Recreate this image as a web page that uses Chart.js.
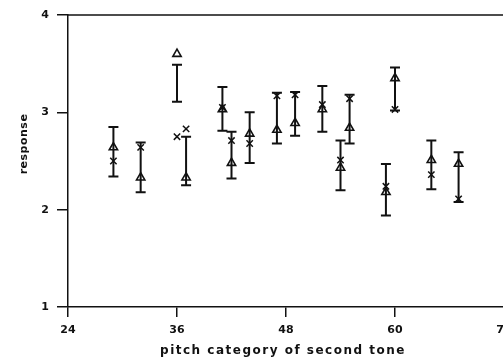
<!DOCTYPE html>
<html>
<head>
<meta charset="utf-8">
<script src="https://cdn.jsdelivr.net/npm/chart.js@4/dist/chart.umd.min.js"></script>
<style>
  html, body { margin: 0; padding: 0; background: #fff; }
  #wrap { width: 503px; height: 358px; overflow: hidden; }
</style>
</head>
<body>
<div id="wrap"><canvas id="pitchChart" width="520" height="358"></canvas></div>
<script>
// pitch categories (semitone index of the second tone)
const pitch = [29, 32, 36, 37, 41, 42, 44, 47, 49, 52, 54, 55, 59, 60, 64, 67];
// mean response, triangle condition
const triResp = [2.64, 2.33, 3.60, 2.33, 3.03, 2.48, 2.78, 2.82, 2.89, 3.03, 2.43, 2.84, 2.18, 3.35, 2.51, 2.47];
// mean response, cross condition
const crossResp = [2.50, 2.64, 2.75, 2.83, 3.05, 2.71, 2.68, 3.17, 3.18, 3.08, 2.51, 3.14, 2.24, 3.03, 2.36, 2.11];
// error bar range at each category
const errLow  = [2.34, 2.18, 3.11, 2.25, 2.81, 2.32, 2.48, 2.68, 2.76, 2.80, 2.20, 2.68, 1.94, 3.02, 2.21, 2.08];
const errHigh = [2.85, 2.69, 3.49, 2.75, 3.26, 2.80, 3.00, 3.20, 3.21, 3.27, 2.71, 3.18, 2.47, 3.46, 2.71, 2.59];
// axis ticks
const xTicks = [24, 36, 48, 60, 72];
const yTicks = [1, 2, 3, 4];

const ink = '#111';
const tickFont = { family: 'DejaVu Sans', size: 11, weight: 'bold' };

// vertical error bars with caps, drawn under the markers
const errorBars = {
  id: 'errorBars',
  beforeDatasetsDraw(chart) {
    const { ctx, scales: { x, y } } = chart;
    ctx.save();
    ctx.strokeStyle = ink;
    ctx.lineWidth = 2;
    pitch.forEach((p, i) => {
      const px = x.getPixelForValue(p);
      const lo = y.getPixelForValue(errLow[i]);
      const hi = y.getPixelForValue(errHigh[i]);
      ctx.beginPath();
      ctx.moveTo(px, lo); ctx.lineTo(px, hi);
      ctx.moveTo(px - 5, lo); ctx.lineTo(px + 5, lo);
      ctx.moveTo(px - 5, hi); ctx.lineTo(px + 5, hi);
      ctx.stroke();
    });
    ctx.restore();
  }
};

// top frame line and spaced-out axis titles
const frameAndTitles = {
  id: 'frameAndTitles',
  afterDraw(chart) {
    const { ctx, chartArea: a } = chart;
    ctx.save();
    ctx.strokeStyle = ink;
    ctx.lineWidth = 1.5;
    ctx.beginPath();
    ctx.moveTo(a.left, a.top);
    ctx.lineTo(a.right, a.top);
    ctx.stroke();

    ctx.fillStyle = ink;
    ctx.font = 'bold 12px "DejaVu Sans"';
    ctx.letterSpacing = '1.5px';
    ctx.textAlign = 'center';
    ctx.textBaseline = 'alphabetic';
    ctx.fillText('pitch category of second tone', 283, 354);

    ctx.translate(27, 144);
    ctx.rotate(-Math.PI / 2);
    ctx.font = 'bold 11px "DejaVu Sans"';
    ctx.letterSpacing = '0.5px';
    ctx.fillText('response', 0, 0);
    ctx.restore();
  }
};

new Chart(document.getElementById('pitchChart'), {
  type: 'scatter',
  data: {
    datasets: [
      {
        label: 'triangle',
        data: pitch.map((p, i) => ({ x: p, y: triResp[i] })),
        pointStyle: 'triangle',
        pointRadius: 4.8,
        borderWidth: 1.6,
        borderColor: ink,
        backgroundColor: 'rgba(0,0,0,0)'
      },
      {
        label: 'cross',
        data: pitch.map((p, i) => ({ x: p, y: crossResp[i] })),
        pointStyle: 'crossRot',
        pointRadius: 4.5,
        borderWidth: 1.5,
        borderColor: ink,
        backgroundColor: ink
      }
    ]
  },
  options: {
    responsive: false,
    animation: false,
    devicePixelRatio: 1,
    layout: { padding: { top: 15, right: 16, left: 0, bottom: 0 } },
    plugins: { legend: { display: false }, tooltip: { enabled: false } },
    scales: {
      x: {
        type: 'linear',
        min: 24,
        max: 72,
        afterBuildTicks: s => { s.ticks = xTicks.map(v => ({ value: v })); },
        afterFit: s => { s.height = 51; },
        ticks: { color: ink, font: tickFont, padding: 7, maxRotation: 0 },
        grid: { drawOnChartArea: false, drawTicks: true, tickLength: 10, color: ink, lineWidth: 1.5 },
        border: { display: true, color: ink, width: 1.5 }
      },
      y: {
        min: 1,
        max: 4,
        afterBuildTicks: s => { s.ticks = yTicks.map(v => ({ value: v })); },
        afterFit: s => { s.width = 68; },
        ticks: { color: ink, font: tickFont, padding: 8 },
        grid: { drawOnChartArea: false, drawTicks: true, tickLength: 11, color: ink, lineWidth: 1.5 },
        border: { display: true, color: ink, width: 1.5 }
      }
    }
  },
  plugins: [errorBars, frameAndTitles]
});
</script>
</body>
</html>
